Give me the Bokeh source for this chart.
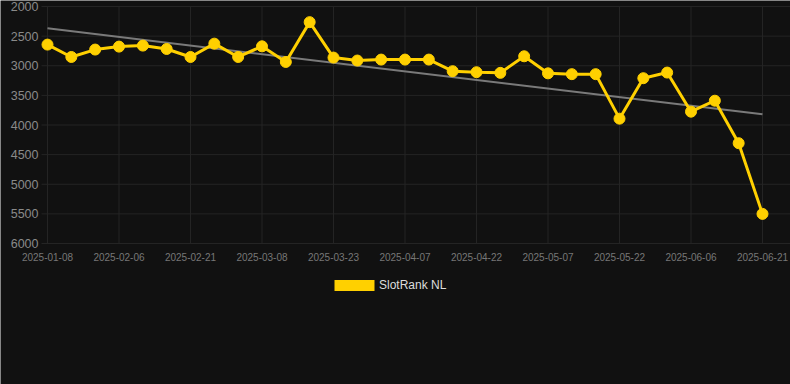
import numpy as np
from bokeh.plotting import figure
from bokeh.models import Range1d, FixedTicker, Legend, LegendItem
from bokeh.embed import file_html
from bokeh.resources import INLINE

dates = ["2025-01-08", "2025-01-27", "2025-02-01", "2025-02-06", "2025-02-11", "2025-02-16",
         "2025-02-21", "2025-02-26", "2025-03-03", "2025-03-08", "2025-03-13", "2025-03-18",
         "2025-03-23", "2025-03-28", "2025-04-02", "2025-04-07", "2025-04-12", "2025-04-17",
         "2025-04-22", "2025-04-27", "2025-05-02", "2025-05-07", "2025-05-12", "2025-05-17",
         "2025-05-22", "2025-05-27", "2025-06-01", "2025-06-06", "2025-06-11", "2025-06-16",
         "2025-06-21"]
ranks = [2643, 2852, 2727, 2677, 2660, 2717, 2852, 2627, 2852, 2672, 2936, 2264,
         2862, 2912, 2896, 2896, 2896, 3092, 3109, 3120, 2840, 3128, 3142, 3142,
         3893, 3210, 3115, 3775, 3590, 4307, 5500]
series_name = "SlotRank NL"
y_ticks = [2000, 2500, 3000, 3500, 4000, 4500, 5000, 5500, 6000]
y_top, y_bottom = 2000, 6000

idx = list(range(len(dates)))
x_ticks = idx[::3]
slope, intercept = np.polyfit(idx, ranks, 1)
trend_x = [idx[0], idx[-1]]
trend_y = [intercept + slope * idx[0], intercept + slope * idx[-1]]

BG = "#111111"
YELLOW = "#FFD000"
GRID = "#242424"
FONT = "Liberation Sans"

W, H = 790, 384
# pixel layout: data x from 47 to 762, data y (2000..6000) from 6 to 243
PX0, PX1 = 47, 762
PY0, PY1 = 6, 243
x_per_px = (idx[-1] - idx[0]) / (PX1 - PX0)
y_per_px = (y_bottom - y_top) / (PY1 - PY0)

def xv(px):
    return idx[0] + (px - PX0) * x_per_px

def yv(py):
    return y_top + (py - PY0) * y_per_px

p = figure(width=W, height=H, output_backend="svg", toolbar_location=None,
           x_range=Range1d(xv(0), xv(W)), y_range=Range1d(yv(H), yv(0)),
           min_border_left=0, min_border_right=0, min_border_top=0, min_border_bottom=0)
p.background_fill_color = BG
p.border_fill_color = BG
p.outline_line_color = None
p.xgrid.visible = False
p.ygrid.visible = False

# grid lines limited to the data area
grid_left, grid_right = xv(41), xv(W)
p.segment(x0=[grid_left] * len(y_ticks), y0=y_ticks, x1=[grid_right] * len(y_ticks), y1=y_ticks,
          line_color=GRID, line_width=1)
p.segment(x0=x_ticks, y0=[y_top] * len(x_ticks), x1=x_ticks, y1=[y_bottom] * len(x_ticks),
          line_color=GRID, line_width=1)

p.line(trend_x, trend_y, line_color="#7a7a7a", line_width=2)
p.line(idx, ranks, line_color=YELLOW, line_width=3)
p.scatter(idx, ranks, size=11, fill_color=YELLOW, line_color=YELLOW)

legend_swatch = p.quad(left=[np.nan], right=[np.nan], top=[np.nan], bottom=[np.nan],
                       fill_color=YELLOW, line_color=None)

for ax in (p.xaxis, p.yaxis):
    ax.axis_line_color = None
    ax.major_tick_line_color = None
    ax.minor_tick_line_color = None
    ax.major_tick_out = 0
    ax.major_tick_in = 0
    ax.minor_tick_out = 0
    ax.minor_tick_in = 0
    ax.major_label_text_font = FONT

p.yaxis.fixed_location = xv(10)
p.yaxis.ticker = FixedTicker(ticks=y_ticks)
p.yaxis.major_label_text_font_size = "12.5px"
p.yaxis.major_label_text_color = "#8a8a8a"
p.yaxis.major_label_standoff = -28

p.xaxis.fixed_location = yv(264)
p.xaxis.ticker = FixedTicker(ticks=x_ticks)
p.xaxis.major_label_overrides = {i: dates[i] for i in x_ticks}
p.xaxis.major_label_text_font_size = "10px"
p.xaxis.major_label_text_color = "#777777"
p.xaxis.major_label_standoff = -12

legend = Legend(items=[LegendItem(label=series_name, renderers=[legend_swatch])],
                location=(329, H - 292), orientation="horizontal",
                background_fill_alpha=0, border_line_color=None,
                label_text_color="#dddddd", label_text_font=FONT, label_text_font_size="12px",
                glyph_width=50, glyph_height=14, padding=0, margin=0, label_standoff=0)
p.add_layout(legend, "center")

open("out.html", "w").write(file_html(p, INLINE))
